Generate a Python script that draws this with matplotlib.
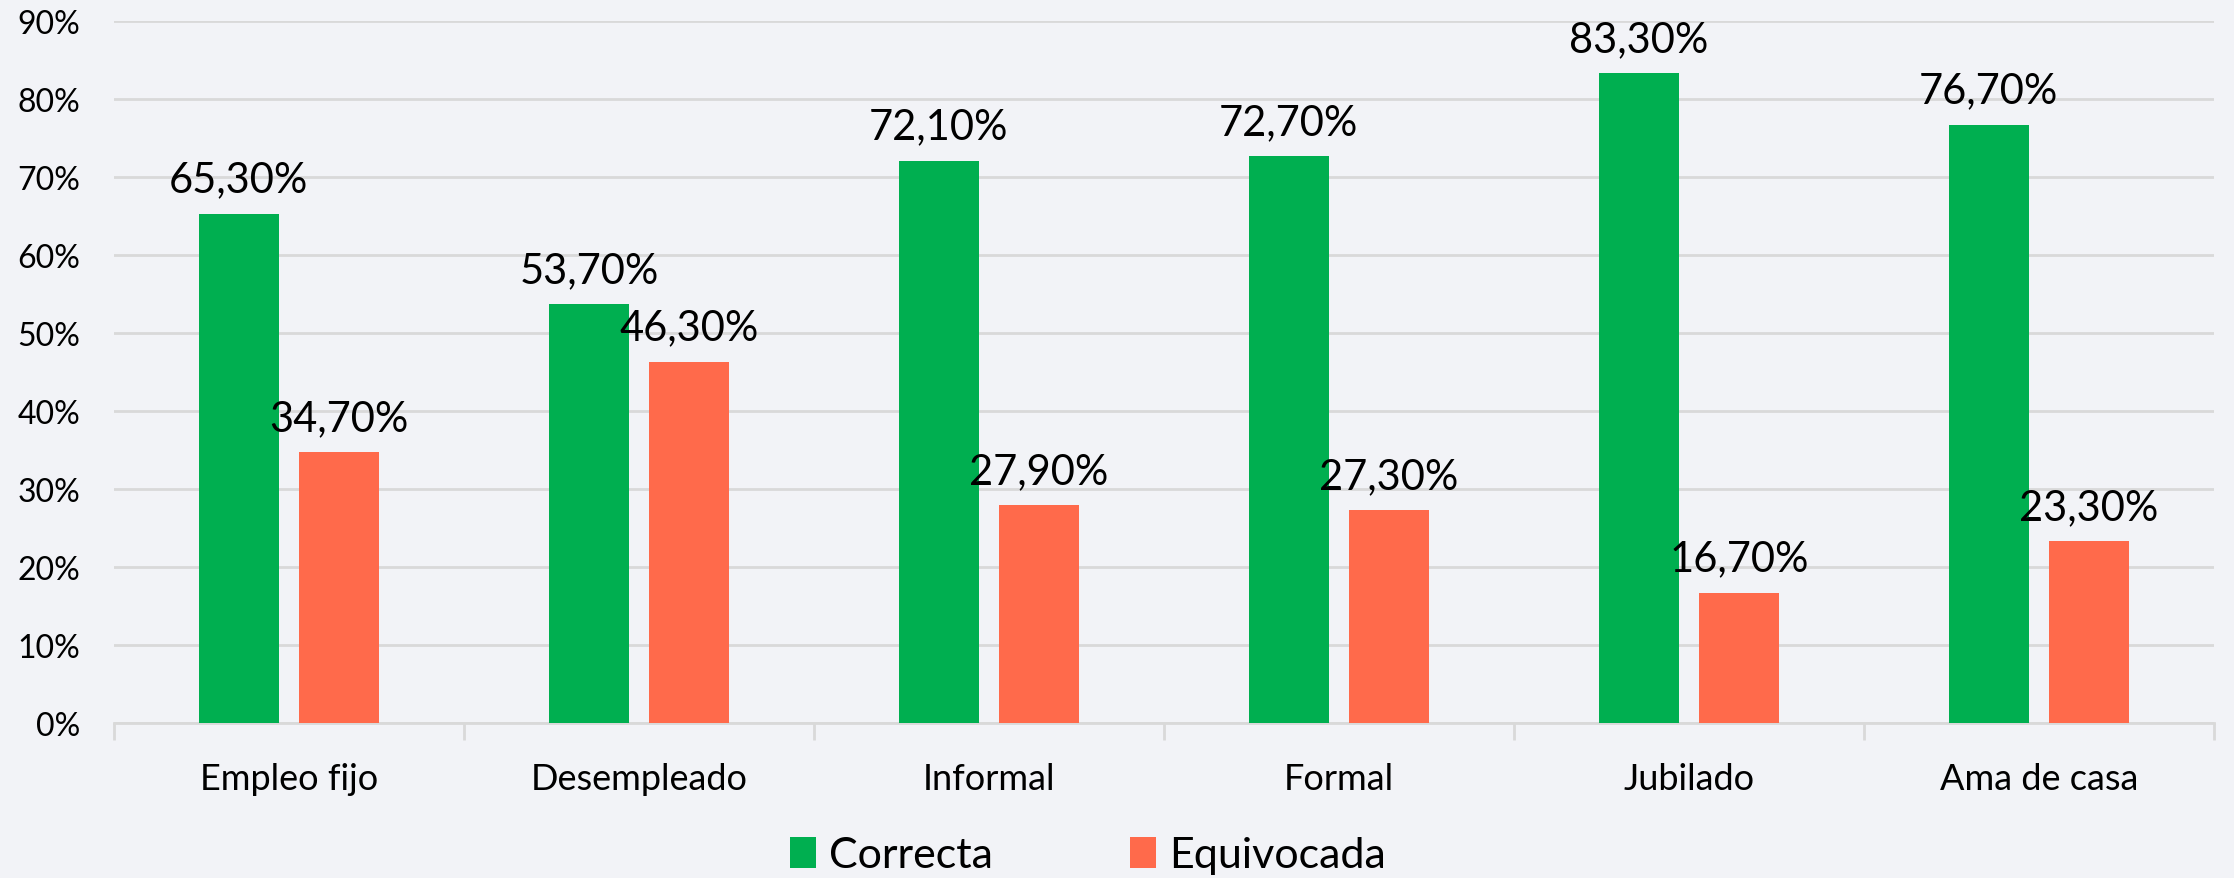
import numpy as np
import matplotlib.pyplot as plt

categories = ['Empleo fijo', 'Desempleado', 'Informal', 'Formal', 'Jubilado', 'Ama de casa']
correcta = [65.3, 53.7, 72.1, 72.7, 83.3, 76.7]
equivocada = [34.7, 46.3, 27.9, 27.3, 16.7, 23.3]
y_ticks = [0, 10, 20, 30, 40, 50, 60, 70, 80, 90]

green = '#00AF50'
red = '#FF6A4B'
bg = '#F2F3F7'

plt.rcParams['font.family'] = ['Lato', 'DejaVu Sans']

fig = plt.figure(figsize=(22.34, 8.79), dpi=100, facecolor=bg)

ax = fig.add_axes([0.051, 0.1763, 0.94, 0.7987])
ax.set_facecolor('none')

x = np.arange(len(categories))
w = 0.229
off = 0.143
b1 = ax.bar(x - off, correcta, w, color=green, zorder=3, label='Correcta')
b2 = ax.bar(x + off, equivocada, w, color=red, zorder=3, label='Equivocada')

# value labels above each bar, comma decimals
for bars, vals in [(b1, correcta), (b2, equivocada)]:
    for r, v in zip(bars, vals):
        ax.annotate(f'{v:.2f}'.replace('.', ',') + '%',
                    (r.get_x() + r.get_width() / 2, v),
                    xytext=(0, 16), textcoords='offset points',
                    ha='center', va='baseline', fontsize=30, color='black', zorder=4)

ax.set_xlim(-0.5, len(categories) - 0.5)
ax.set_ylim(0, 90)
ax.set_yticks(y_ticks)
ax.set_yticklabels([f'{t}%' for t in y_ticks], fontsize=23)
ax.tick_params(axis='y', length=0, pad=24)
ax.yaxis.grid(True, color='#D9D9D9', linewidth=2, zorder=0)

ax.set_xticks(x)
ax.set_xticklabels(categories, fontsize=26)
ax.tick_params(axis='x', length=0, pad=28)
ax.set_xticks(np.arange(-0.5, len(categories)), minor=True)
ax.tick_params(axis='x', which='minor', length=12, width=2, color='#D9D9D9')

for s in ['top', 'right', 'left']:
    ax.spines[s].set_visible(False)
ax.spines['bottom'].set_color('#D9D9D9')
ax.spines['bottom'].set_linewidth(2)

fig.legend(handles=[b1, b2], loc='lower center', bbox_to_anchor=(0.487, -0.04),
           ncol=2, frameon=False, fontsize=31, handlelength=0.6, handleheight=0.75,
           handletextpad=0.3, columnspacing=3.2)

fig.savefig('out.png', dpi=100, facecolor=bg)
